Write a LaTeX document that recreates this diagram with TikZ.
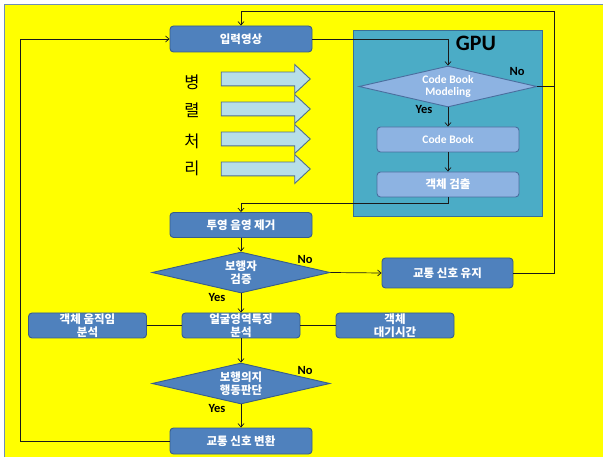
\documentclass[tikz,border=0pt]{standalone}
\usepackage{fontspec}
\setmainfont{Carlito}
\newfontfamily\kr{Noto Sans CJK KR}
\usetikzlibrary{shapes.geometric,shapes.arrows,arrows.meta}

\definecolor{bg}{HTML}{FFFF00}
\definecolor{frameline}{HTML}{6F8FB5}
\definecolor{boxblue}{HTML}{4F81BD}
\definecolor{boxedge}{HTML}{385D8A}
\definecolor{gpufill}{HTML}{4BACC6}
\definecolor{gpuedge}{HTML}{3A6F96}
\definecolor{lightbox}{HTML}{8DB3E2}
\definecolor{lightedge}{HTML}{4A6E9E}
\definecolor{arrowfill}{HTML}{B7DEE8}
\definecolor{arrowedge}{HTML}{4F6E8C}
\definecolor{wire}{HTML}{1A1A1A}

\tikzset{
  procbox/.style={rectangle, rounded corners=3.5pt, draw=boxedge, fill=boxblue,
    line width=0.9pt, text=white, align=center, inner sep=0pt,
    font=\kr\bfseries\fontsize{11.5}{12.5}\selectfont},
  gpubox/.style={procbox, draw=lightedge, fill=lightbox},
  decision/.style={diamond, aspect=4.3, draw=boxedge, fill=boxblue, line width=0.9pt,
    text=white, align=center, inner sep=0pt, minimum width=178pt, minimum height=41pt,
    font=\kr\bfseries\fontsize{11.5}{12.5}\selectfont},
  tag/.style={font=\bfseries\fontsize{12.5}{13}\selectfont, text=black, inner sep=0pt},
  flow/.style={draw=wire, line width=0.7pt},
  go/.style={flow, -{Straight Barb[length=3.5pt,width=6pt]}},
  fatarrow/.style={single arrow, draw=arrowedge, fill=arrowfill, line width=0.9pt,
    minimum height=89pt, inner xsep=0pt, inner ysep=6.5pt,
    single arrow head extend=7.5pt, single arrow tip angle=86},
  par/.style={font=\kr\fontsize{16.5}{18}\selectfont, text=black, inner sep=0pt}
}

\begin{document}
\begin{tikzpicture}[x=1pt,y=-1pt]
\useasboundingbox (0,0) rectangle (603,457);
\fill[white] (0,0) rectangle (603,457);
\fill[bg] (4,5) rectangle (603,457);
\draw[frameline, line width=1pt] (4,457) -- (4,5) -- (603,5);

% GPU region
\node[draw=gpuedge, fill=gpufill, line width=1pt, minimum width=189pt, minimum height=186pt,
      inner sep=0pt] (gpu) at (447.5,124) {};
\node[font=\bfseries\fontsize{22}{23}\selectfont, inner sep=0pt] (gputitle) at (476,43) {GPU};

% main column
\node[procbox, minimum width=142pt, minimum height=26pt] (in) at (241,39) {입력영상};
\node[procbox, minimum width=142pt, minimum height=25pt] (shadow) at (241,225) {투영 음영 제거};
\node[decision] (ped) at (241,272.5) {보행자\\검증};
\node[procbox, minimum width=131pt, minimum height=30pt] (keep) at (447.5,273) {교통 신호 유지};
\node[procbox, minimum width=118pt, minimum height=25pt] (face) at (241,325.5) {얼굴영역특징\\분석};
\node[procbox, minimum width=118pt, minimum height=25pt] (motion) at (87.5,325.5) {객체 움직임\\분석};
\node[procbox, minimum width=118pt, minimum height=25pt] (wait) at (395,325.5) {객체\\대기시간};
\node[decision] (intent) at (241,383.5) {보행의지\\행동판단};
\node[procbox, minimum width=142pt, minimum height=26pt] (switch) at (241,441) {교통 신호 변환};

% inside GPU
\node[decision, draw=lightedge, fill=lightbox,
      font=\bfseries\fontsize{11.5}{12.5}\selectfont] (cbm) at (448,86.5) {Code Book\\Modeling};
\node[gpubox, minimum width=142pt, minimum height=25pt,
      font=\bfseries\fontsize{11.5}{12.5}\selectfont] (cb) at (448,139.5) {Code Book};
\node[gpubox, minimum width=142pt, minimum height=25pt] (det) at (448,184.5) {객체 검출};

% parallel processing arrows
\node[fatarrow] (a1) at (262,79) {};
\node[fatarrow] (a2) at (262,109) {};
\node[fatarrow] (a3) at (262,139) {};
\node[fatarrow] (a4) at (262,169) {};
\node[par] (p1) at (192,82) {병};
\node[par] (p2) at (192,110) {렬};
\node[par] (p3) at (192,141) {처};
\node[par] (p4) at (192,168) {리};

% branch labels
\node[tag] (cbmno) at (517,71) {No};
\node[tag] (cbmyes) at (424,109) {Yes};
\node[tag] (pedno) at (305,259) {No};
\node[tag] (pedyes) at (217,297) {Yes};
\node[tag] (intno) at (305,370) {No};
\node[tag] (intyes) at (217,408) {Yes};

% routing points
\coordinate (rt) at (554,11);
\coordinate (lb) at (20,39);

% connectors
\draw[go] (in.east) -| (cbm.north);
\draw[go] (cbm.south) -- (cb.north);
\draw[go] (cb.south) -- (det.north);
\draw[go] (det.south) -- ++(0,6) -| (shadow.north);
\draw[go] (cbm.east) -| (rt) -| (in.north);
\draw[go] (shadow.south) -- (ped.north);
\draw[go] (ped.east) -- (keep.west);
\draw[flow] (keep.east) -| (rt);
\draw[go] (ped.south) -- (face.north);
\draw[flow] (motion.east) -- (face.west);
\draw[flow] (face.east) -- (wait.west);
\draw[go] (face.south) -- (intent.north);
\draw[go] (intent.south) -- (switch.north);
\draw[go] (switch.west) -| (lb) -- (in.west);
\end{tikzpicture}
\end{document}
